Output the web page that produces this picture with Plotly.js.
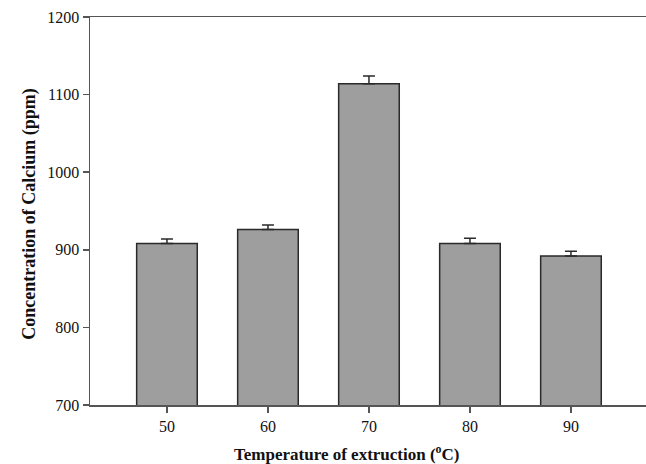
<!DOCTYPE html>
<html>
<head>
<meta charset="utf-8">
<script src="https://cdn.plot.ly/plotly-3.0.1.min.js"></script>
<style>html,body{margin:0;padding:0;background:#fff;}#chart{width:646px;height:464px;}</style>
</head>
<body>
<div id="chart"></div>
<script>
const temperatures = [50, 60, 70, 80, 90];
const calcium = [908, 926, 1114, 908, 892];
const calciumErr = [6, 6, 10, 7, 6];
const yTicks = [700, 800, 900, 1000, 1100, 1200];

const trace = {
  type: 'bar',
  x: temperatures,
  y: calcium,
  width: 6,
  marker: {color: '#9e9e9e', line: {color: '#2a2a2a', width: 1.5}},
  error_y: {type: 'data', array: calciumErr, visible: true, symmetric: false, arrayminus: [0,0,0,0,0], color: '#2a2a2a', thickness: 1.5, width: 6}
};

const layout = {
  width: 646, height: 464,
  margin: {l: 90, r: 0, t: 17, b: 59, pad: 0},
  paper_bgcolor: '#ffffff', plot_bgcolor: '#ffffff',
  showlegend: false,
  font: {family: 'Liberation Serif, Times New Roman, serif', color: '#111'},
  xaxis: {
    range: [42.38, 97.43],
    tickvals: temperatures,
    ticktext: temperatures.map(String),
    ticks: 'outside', ticklen: 6, tickwidth: 1.5, tickcolor: '#555',
    showline: true, linecolor: '#555', linewidth: 1.5, mirror: true,
    showgrid: false, zeroline: false,
    tickfont: {size: 16, color: '#111'}
  },
  yaxis: {
    range: [700, 1200],
    tickvals: yTicks,
    ticks: 'outside', ticklen: 6, tickwidth: 1.5, tickcolor: '#555',
    showline: true, linecolor: '#555', linewidth: 1.5,
    showgrid: false, zeroline: false,
    tickfont: {size: 16, color: '#111'}
  },
  annotations: [
    {text: '<b>Temperature of extruction (<sup>o</sup>C)</b>', xref: 'paper', yref: 'paper',
     x: (347 - 90) / 556, y: -0.09, xanchor: 'center', yanchor: 'top', showarrow: false,
     font: {size: 17, color: '#111'}},
    {text: '<b>Concentration of Calcium (ppm)</b>', xref: 'paper', yref: 'paper',
     x: -0.11, y: (405 - 214) / 388, xanchor: 'center', yanchor: 'middle', textangle: -90, showarrow: false,
     font: {size: 18, color: '#111'}}
  ]
};

Plotly.newPlot('chart', [trace], layout, {displayModeBar: false, staticPlot: true});
</script>
</body>
</html>
